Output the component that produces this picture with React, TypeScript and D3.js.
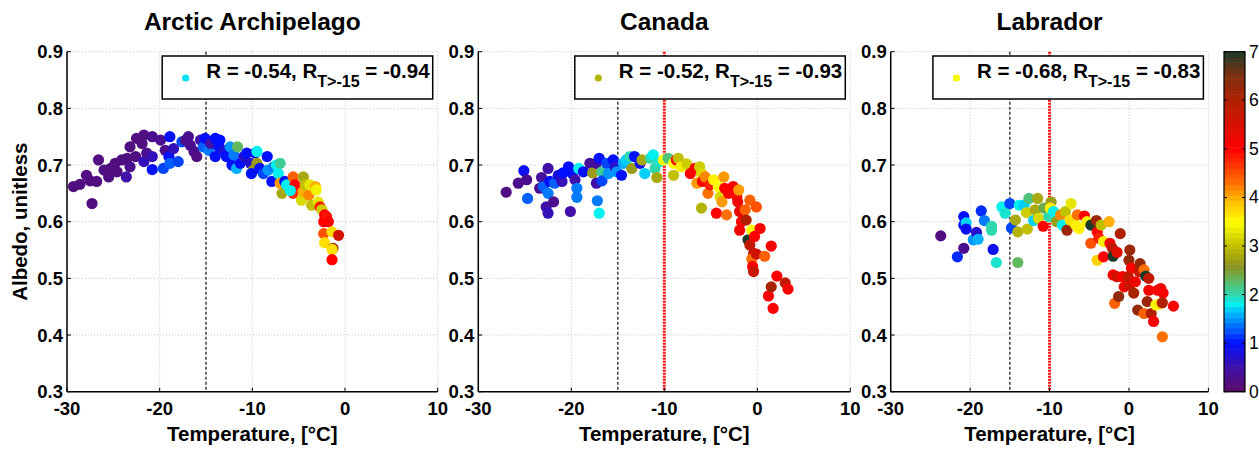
import React from 'react';
import * as d3 from 'd3';

// [temperature °C, albedo, colour value]
const arcticPoints: [number, number, number][] = [
  [-29.3, 0.662, 0.2], [-28.6, 0.666, 0.2], [-27.9, 0.682, 0.2], [-27.5, 0.672, 0.2], [-27.3, 0.632, 0.2],
  [-26.8, 0.671, 0.2], [-26.6, 0.709, 0.2], [-26.0, 0.691, 0.2], [-25.5, 0.679, 0.2], [-25.3, 0.694, 0.2],
  [-24.8, 0.703, 0.2], [-24.6, 0.688, 0.2], [-24.1, 0.709, 0.2], [-23.5, 0.712, 0.2], [-23.2, 0.697, 0.3],
  [-23.6, 0.679, 0.5], [-23.2, 0.732, 0.2], [-22.6, 0.715, 0.2], [-22.5, 0.747, 0.2], [-21.9, 0.738, 0.2],
  [-21.7, 0.753, 0.2], [-21.7, 0.706, 0.6], [-21.4, 0.721, 0.3], [-20.8, 0.750, 0.3], [-20.8, 0.715, 0.6],
  [-20.8, 0.692, 1.0], [-19.9, 0.744, 0.3], [-19.6, 0.694, 1.2], [-19.4, 0.726, 0.3], [-19.0, 0.715, 1.0],
  [-18.9, 0.750, 1.0], [-18.5, 0.729, 0.6], [-18.9, 0.703, 1.3], [-18.0, 0.706, 1.2], [-17.6, 0.741, 1.2],
  [-17.2, 0.744, 0.2], [-16.9, 0.750, 0.3], [-16.7, 0.735, 0.3], [-16.3, 0.724, 0.3], [-16.0, 0.715, 0.2],
  [-15.6, 0.744, 0.5], [-15.3, 0.732, 1.3], [-15.1, 0.747, 1.0], [-14.7, 0.726, 1.4], [-14.5, 0.738, 0.5],
  [-14.0, 0.747, 1.0], [-13.6, 0.732, 1.0], [-13.5, 0.744, 1.0], [-14.0, 0.715, 1.0], [-13.1, 0.726, 0.8],
  [-12.8, 0.715, 1.0], [-12.4, 0.732, 1.5], [-12.2, 0.700, 1.0], [-12.0, 0.718, 1.4], [-11.7, 0.694, 1.6],
  [-11.6, 0.732, 2.3], [-11.3, 0.703, 1.0], [-10.9, 0.715, 0.7], [-10.6, 0.721, 1.0], [-10.2, 0.703, 0.7],
  [-9.9, 0.691, 2.7], [-10.1, 0.685, 1.0], [-9.7, 0.721, 1.0], [-9.5, 0.724, 1.8], [-9.5, 0.703, 2.7],
  [-9.2, 0.694, 1.0], [-8.8, 0.685, 1.2], [-8.4, 0.715, 1.0], [-8.3, 0.691, 1.5], [-7.9, 0.671, 1.0],
  [-7.7, 0.697, 1.4], [-7.4, 0.700, 1.8], [-7.2, 0.685, 1.8], [-7.0, 0.703, 2.1], [-7.0, 0.668, 4.1],
  [-6.8, 0.650, 2.8], [-6.5, 0.671, 1.0], [-6.3, 0.665, 1.8], [-5.9, 0.659, 1.8], [-5.6, 0.679, 4.4],
  [-5.6, 0.650, 4.7], [-5.4, 0.665, 5.0], [-5.9, 0.655, 1.8], [-4.7, 0.638, 3.2], [-4.5, 0.679, 2.8],
  [-4.5, 0.653, 4.0], [-4.3, 0.665, 3.0], [-3.9, 0.647, 4.2], [-3.8, 0.665, 3.3], [-3.6, 0.629, 3.0],
  [-3.2, 0.662, 4.0], [-3.1, 0.656, 3.4], [-2.9, 0.635, 3.3], [-2.7, 0.626, 4.8], [-2.5, 0.621, 3.1],
  [-2.3, 0.600, 5.0], [-2.2, 0.612, 5.0], [-2.0, 0.609, 4.9], [-1.8, 0.600, 5.0], [-2.3, 0.579, 4.5],
  [-2.2, 0.563, 3.7], [-1.4, 0.582, 3.7], [-0.7, 0.576, 5.6], [-1.3, 0.553, 6.3], [-1.4, 0.551, 3.7],
  [-1.4, 0.533, 5.0],
];

const canadaPoints: [number, number, number][] = [
  [-27.0, 0.652, 0.2], [-25.7, 0.668, 0.3], [-25.1, 0.690, 0.9], [-24.8, 0.674, 0.3], [-24.7, 0.641, 1.3],
  [-23.4, 0.659, 0.3], [-23.2, 0.678, 0.4], [-23.0, 0.662, 1.3], [-22.7, 0.626, 0.5], [-22.5, 0.694, 0.5],
  [-22.5, 0.615, 0.6], [-22.3, 0.671, 1.0], [-22.5, 0.650, 1.4], [-21.9, 0.635, 0.3], [-21.8, 0.668, 1.3],
  [-21.4, 0.682, 0.8], [-21.0, 0.671, 0.6], [-20.9, 0.686, 1.0], [-20.3, 0.697, 1.0], [-20.1, 0.618, 0.5],
  [-19.9, 0.685, 1.0], [-19.6, 0.674, 0.5], [-19.4, 0.659, 1.4], [-19.4, 0.643, 1.4], [-19.2, 0.694, 1.8],
  [-18.7, 0.688, 1.0], [-18.0, 0.703, 0.4], [-17.7, 0.686, 2.7], [-17.3, 0.703, 0.4], [-17.3, 0.668, 0.5],
  [-17.2, 0.637, 1.4], [-17.0, 0.615, 1.8], [-17.0, 0.712, 1.0], [-16.7, 0.688, 2.1], [-16.7, 0.672, 1.2],
  [-16.2, 0.703, 1.2], [-16.0, 0.685, 1.5], [-15.5, 0.709, 1.0], [-15.3, 0.697, 0.7], [-15.1, 0.688, 1.5],
  [-14.6, 0.682, 1.0], [-14.4, 0.703, 1.6], [-14.1, 0.709, 1.7], [-13.7, 0.715, 2.0], [-13.5, 0.694, 2.7],
  [-13.2, 0.715, 1.0], [-12.6, 0.703, 0.9], [-12.4, 0.709, 2.8], [-12.1, 0.685, 1.7], [-11.5, 0.712, 2.0],
  [-11.2, 0.718, 1.8], [-11.0, 0.694, 2.0], [-10.8, 0.678, 2.8], [-10.5, 0.706, 1.9], [-10.1, 0.709, 3.5],
  [-9.6, 0.712, 2.2], [-9.0, 0.703, 3.5], [-9.0, 0.682, 3.0], [-8.7, 0.709, 5.0], [-8.5, 0.712, 3.0],
  [-8.2, 0.697, 3.6], [-7.6, 0.702, 3.1], [-7.2, 0.685, 5.0], [-6.7, 0.694, 5.1], [-6.5, 0.668, 4.1],
  [-6.2, 0.697, 3.1], [-6.0, 0.685, 3.2], [-5.9, 0.671, 5.0], [-6.0, 0.624, 2.9], [-5.6, 0.679, 4.2],
  [-5.3, 0.650, 4.3], [-5.1, 0.665, 4.8], [-4.7, 0.674, 3.6], [-4.4, 0.615, 5.0], [-4.2, 0.662, 3.5],
  [-4.0, 0.644, 3.2], [-3.8, 0.635, 4.1], [-3.6, 0.679, 4.1], [-3.5, 0.659, 5.0], [-3.3, 0.612, 4.3],
  [-3.1, 0.650, 5.0], [-2.6, 0.662, 5.1], [-2.2, 0.644, 4.9], [-2.1, 0.635, 5.2], [-2.0, 0.656, 4.1],
  [-1.9, 0.618, 5.3], [-1.7, 0.600, 5.0], [-1.9, 0.585, 5.2], [-1.3, 0.621, 4.4], [-1.2, 0.603, 6.0],
  [-1.0, 0.568, 7.0], [-0.8, 0.559, 5.8], [-0.6, 0.585, 3.5], [-0.8, 0.638, 4.4], [-0.1, 0.626, 4.5],
  [-0.3, 0.574, 5.0], [-0.4, 0.544, 5.8], [-0.6, 0.534, 4.3], [-0.5, 0.521, 5.0], [-0.4, 0.512, 5.7],
  [-0.1, 0.543, 5.6], [0.3, 0.588, 5.0], [0.8, 0.539, 4.4], [1.5, 0.557, 5.1], [1.2, 0.469, 5.0],
  [1.5, 0.485, 6.1], [2.1, 0.504, 5.0], [1.7, 0.447, 5.0], [3.0, 0.492, 5.8], [3.3, 0.481, 5.1],
];

const labradorPoints: [number, number, number][] = [
  [-23.7, 0.575, 0.2], [-21.6, 0.538, 1.1], [-20.8, 0.553, 0.3], [-20.8, 0.609, 1.0], [-20.8, 0.594, 1.0],
  [-20.5, 0.598, 1.7], [-20.5, 0.587, 0.9], [-19.6, 0.568, 1.5], [-19.2, 0.581, 0.7], [-19.0, 0.569, 1.6],
  [-18.6, 0.619, 1.1], [-18.2, 0.602, 1.4], [-17.3, 0.592, 2.0], [-17.3, 0.585, 2.0], [-17.1, 0.551, 0.9],
  [-16.7, 0.528, 1.9], [-16.0, 0.626, 1.8], [-15.6, 0.615, 1.9], [-15.0, 0.632, 1.2], [-14.8, 0.589, 1.2],
  [-14.3, 0.603, 2.8], [-14.0, 0.582, 2.9], [-14.0, 0.528, 2.3], [-13.8, 0.629, 1.8], [-13.2, 0.629, 1.7],
  [-12.8, 0.587, 3.0], [-12.9, 0.616, 3.1], [-12.6, 0.641, 2.2], [-12.0, 0.602, 1.7], [-11.8, 0.621, 2.8],
  [-11.5, 0.641, 2.8], [-11.4, 0.606, 3.2], [-10.8, 0.592, 5.0], [-10.7, 0.624, 2.4], [-10.1, 0.609, 2.0],
  [-9.8, 0.635, 2.7], [-9.9, 0.624, 3.6], [-9.5, 0.618, 1.8], [-9.1, 0.600, 2.7], [-8.6, 0.612, 4.2],
  [-8.4, 0.594, 1.8], [-8.0, 0.618, 3.0], [-7.8, 0.585, 6.2], [-7.3, 0.632, 3.3], [-7.4, 0.603, 3.7],
  [-6.7, 0.594, 3.6], [-6.3, 0.588, 3.6], [-6.5, 0.612, 4.3], [-5.6, 0.610, 5.0], [-5.3, 0.600, 3.4],
  [-4.8, 0.562, 4.5], [-4.8, 0.594, 7.0], [-4.1, 0.602, 6.2], [-4.0, 0.582, 5.0], [-3.8, 0.571, 4.8],
  [-4.0, 0.532, 3.8], [-3.5, 0.594, 3.0], [-3.2, 0.565, 3.6], [-3.2, 0.538, 5.0], [-2.5, 0.600, 4.0],
  [-2.4, 0.562, 5.2], [-2.1, 0.553, 5.8], [-2.0, 0.539, 7.0], [-1.8, 0.456, 4.4], [-1.5, 0.546, 5.4],
  [-1.3, 0.468, 6.3], [-1.1, 0.579, 6.0], [-2.0, 0.506, 5.2], [-1.5, 0.503, 5.6], [-0.8, 0.503, 5.1],
  [-0.6, 0.485, 5.3], [0.1, 0.550, 6.2], [0.0, 0.532, 6.3], [0.3, 0.518, 5.0], [-0.1, 0.503, 5.8],
  [0.1, 0.488, 5.7], [0.6, 0.474, 6.1], [0.8, 0.494, 5.2], [1.3, 0.512, 5.7], [1.4, 0.526, 6.3],
  [1.9, 0.515, 4.3], [2.1, 0.504, 7.0], [2.5, 0.500, 5.8], [2.3, 0.459, 6.2], [1.1, 0.444, 6.3],
  [1.9, 0.438, 4.4], [2.8, 0.438, 6.0], [3.1, 0.424, 5.1], [2.5, 0.479, 5.2], [3.6, 0.479, 5.0],
  [4.0, 0.482, 5.2], [4.3, 0.474, 5.1], [3.4, 0.453, 3.5], [3.9, 0.455, 3.7], [4.2, 0.457, 6.0],
  [4.2, 0.397, 4.3], [5.6, 0.451, 5.0],
];

const titles = ['Arctic Archipelago', 'Canada', 'Labrador'];
const rAll = ['-0.54', '-0.52', '-0.68'];
const rWarm = ['-0.94', '-0.93', '-0.83'];
const legendValues = [1.75, 2.9, 3.45];
const xTicks = [-30, -20, -10, 0, 10];
const yTicks = [0.3, 0.4, 0.5, 0.6, 0.7, 0.8, 0.9];
const cbarTicks = [0, 1, 2, 3, 4, 5, 6, 7];
const blackLineT = -15;
const redLineT = -10;

const CMAP_STOPS = [0, 0.5, 1, 1.3, 1.6, 1.8, 2.0, 2.3, 2.6, 3.0, 3.5, 4.0, 4.3, 4.6, 5.0, 5.5, 6.0, 6.5, 7.0];
const CMAP_COLORS = ['#5c0c66', '#4010a8', '#0010ff', '#0060ff', '#00b0ff', '#00f0f0', '#30d8b0', '#60b860',
  '#909020', '#c0c000', '#ffff00', '#ffb000', '#ff7000', '#ff4000', '#ff0000', '#d81000', '#b02000', '#803010', '#1a3a28'];

const FONT = '"Liberation Sans", Arial, Helvetica, sans-serif';

export default function App() {
  const cmap = d3.scaleLinear<string>().domain(CMAP_STOPS).range(CMAP_COLORS).clamp(true);
  const top = 51.7;
  const bottom = 391.7;
  const y = d3.scaleLinear().domain([0.3, 0.9]).range([bottom, top]);
  const panels = [
    { left: 67, right: 437.7, data: arcticPoints, red: false },
    { left: 478.3, right: 850.3, data: canadaPoints, red: true },
    { left: 890.7, right: 1208.4, data: labradorPoints, red: true },
  ];
  const cb = { left: 1224, right: 1245 };
  const cbScale = d3.scaleLinear().domain([0, 7]).range([bottom, top]);
  const nBands = 64;
  const bands = d3.range(nBands);

  return (
    <svg width={1259} height={449} style={{ position: 'absolute', left: 0, top: 0, background: '#fff' }}
      fontFamily={FONT} fontWeight="bold">
      <rect x={0} y={0} width={1259} height={449} fill="#fff" />
      {panels.map((p, i) => {
        const x = d3.scaleLinear().domain([-30, 10]).range([p.left, p.right]);
        const cx = (p.left + p.right) / 2;
        const lgRight = p.right - 5;
        const lgLeft = lgRight - 270.5;
        return (
          <g key={i}>
            {xTicks.map((t) => (
              <line key={'gx' + t} x1={x(t)} x2={x(t)} y1={top} y2={bottom} stroke="#c4c4c4" strokeWidth={1} strokeDasharray="1,2" />
            ))}
            {yTicks.map((t) => (
              <line key={'gy' + t} x1={p.left} x2={p.right} y1={y(t)} y2={y(t)} stroke="#c4c4c4" strokeWidth={1} strokeDasharray="1,2" />
            ))}
            <line x1={x(blackLineT)} x2={x(blackLineT)} y1={top} y2={bottom} stroke="#222" strokeWidth={1.3} strokeDasharray="3,2" />
            {p.red && (
              <line x1={x(redLineT)} x2={x(redLineT)} y1={top} y2={bottom} stroke="#ff1010" strokeWidth={3} strokeDasharray="2,1" />
            )}
            {p.data.map((d, j) => (
              <circle key={j} cx={x(d[0])} cy={y(d[1])} r={5.6} fill={cmap(d[2])} />
            ))}
            <line x1={p.left} x2={p.left} y1={top} y2={bottom} stroke="#000" strokeWidth={1.5} />
            <line x1={p.left} x2={p.right} y1={bottom} y2={bottom} stroke="#000" strokeWidth={1.5} />
            {xTicks.map((t) => (
              <g key={'tx' + t}>
                <line x1={x(t)} x2={x(t)} y1={bottom} y2={bottom - 4} stroke="#000" strokeWidth={1} />
                <text x={x(t)} y={415} textAnchor="middle" fontSize={18.5} fill="#000">{String(t)}</text>
              </g>
            ))}
            {yTicks.map((t) => (
              <g key={'ty' + t}>
                <line x1={p.left} x2={p.left + 4} y1={y(t)} y2={y(t)} stroke="#000" strokeWidth={1} />
                <text x={p.left - 4} y={y(t) + 6.5} textAnchor="end" fontSize={18.5} fill="#000">{d3.format('.1f')(t)}</text>
              </g>
            ))}
            <text x={cx} y={30} textAnchor="middle" fontSize={24.5} fill="#000">{titles[i]}</text>
            <text x={cx} y={441} textAnchor="middle" fontSize={20.5} fill="#000">Temperature, [°C]</text>
            <rect x={lgLeft} y={56} width={270.5} height={43} fill="#fff" stroke="#000" strokeWidth={1.5} />
            <circle cx={lgLeft + 23.5} cy={78} r={3.6} fill={cmap(legendValues[i])} />
            <text x={lgLeft + 44} y={77.5} fontSize={20.5} fill="#000">
              {`R = ${rAll[i]}, R`}
              <tspan dy={9} fontSize={16}>T&gt;-15</tspan>
              <tspan dy={-9} fontSize={20.5}>{` = ${rWarm[i]}`}</tspan>
            </text>
          </g>
        );
      })}
      <text transform="translate(27,221.7) rotate(-90)" textAnchor="middle" fontSize={20.5} fill="#000">Albedo, unitless</text>
      {bands.map((b) => {
        const v0 = (b * 7) / nBands;
        const v1 = ((b + 1) * 7) / nBands;
        return (
          <rect key={b} x={cb.left} y={cbScale(v1)} width={cb.right - cb.left} height={cbScale(v0) - cbScale(v1) + 0.5}
            fill={cmap((v0 + v1) / 2)} />
        );
      })}
      <rect x={cb.left} y={top} width={cb.right - cb.left} height={bottom - top} fill="none" stroke="#000" strokeWidth={1.2} />
      {cbarTicks.map((t) => (
        <g key={'cb' + t}>
          <line x1={cb.left} x2={cb.left + 3} y1={cbScale(t)} y2={cbScale(t)} stroke="#000" />
          <line x1={cb.right - 3} x2={cb.right} y1={cbScale(t)} y2={cbScale(t)} stroke="#000" />
          <text x={1249} y={cbScale(t) + 6} fontSize={17.5} fontWeight="normal" fill="#000">{String(t)}</text>
        </g>
      ))}
    </svg>
  );
}
